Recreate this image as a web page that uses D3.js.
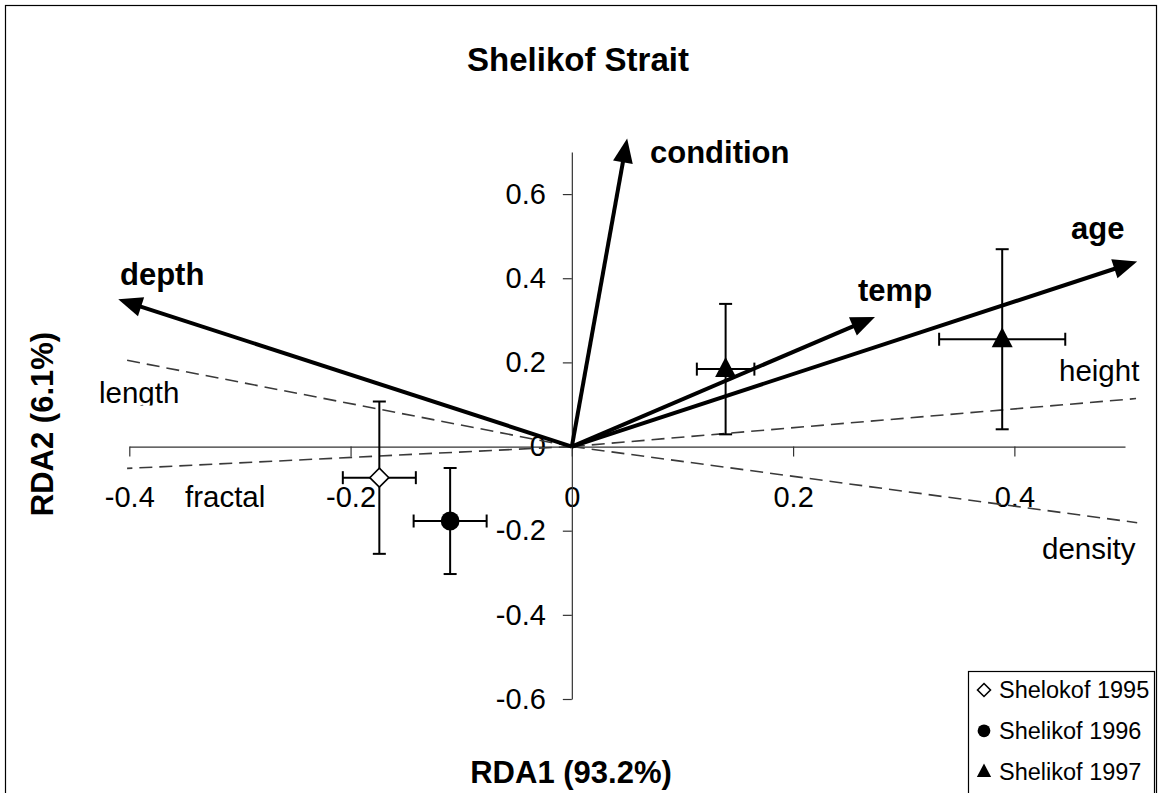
<!DOCTYPE html>
<html>
<head>
<meta charset="utf-8">
<script src="https://cdn.jsdelivr.net/npm/d3@7"></script>
<style>
  html, body { margin: 0; padding: 0; background: #fff; }
  svg { display: block; font-family: "Liberation Sans", Arial, Helvetica, sans-serif; }
</style>
</head>
<body>
<svg id="chart" width="1159" height="793"></svg>
<script>
// RDA biplot for Shelikof Strait samples

const chartTitle = "Shelikof Strait";
const xTitle = "RDA1 (93.2%)";
const yTitle = "RDA2 (6.1%)";

const xTicks = [-0.4, -0.2, 0, 0.2, 0.4];
const yTicks = [-0.6, -0.4, -0.2, 0, 0.2, 0.4, 0.6];

// Environmental vectors (solid arrows)
const envNames = ["condition", "age", "temp", "depth"];
const envX = [0.050, 0.511, 0.274, -0.410];
const envY = [0.732, 0.440, 0.308, 0.350];

// Morphometric vectors (dashed lines)
const morphNames = ["length", "fractal", "height", "density"];
const morphX = [-0.404, -0.402, 0.510, 0.511];
const morphY = [0.206, -0.052, 0.114, -0.181];

// Sample group centroids with standard errors
const groupSymbols = ["diamond", "circle", "triangle", "triangle"];
const groupX = [-0.174, -0.110, 0.139, 0.389];
const groupY = [-0.074, -0.177, 0.184, 0.255];
const groupXErr = [0.033, 0.033, 0.026, 0.057];
const groupYErr = [0.181, 0.126, 0.155, 0.214];

const legendNames = ["Shelokof 1995", "Shelikof 1996", "Shelikof 1997"];
const legendSymbols = ["diamond", "circle", "triangle"];

const svg = d3.select("#chart");

const x = d3.scaleLinear().domain([-0.4, 0.5]).range([129.3, 1125]);
const y = d3.scaleLinear().domain([-0.6, 0.7]).range([699, 152]);

// outer frame
svg.append("rect")
  .attr("x", 5.5).attr("y", 5.5)
  .attr("width", 1151).attr("height", 800)
  .attr("fill", "none").attr("stroke", "#000").attr("stroke-width", 1.2);

// title
svg.append("text")
  .attr("x", 578).attr("y", 71)
  .attr("text-anchor", "middle")
  .attr("font-size", 33).attr("font-weight", "bold")
  .text(chartTitle);

// axes crossing at origin
const fmt = d => d === 0 ? "0" : String(d);

const xAxis = svg.append("g")
  .attr("transform", `translate(0,${y(0)})`)
  .call(d3.axisBottom(x).tickValues(xTicks).tickFormat(fmt).tickSize(10).tickSizeOuter(0).tickPadding(30));
const yAxis = svg.append("g")
  .attr("transform", `translate(${x(0)},0)`)
  .call(d3.axisLeft(y).tickValues(yTicks).tickFormat(fmt).tickSize(9).tickSizeOuter(0).tickPadding(17));

[xAxis, yAxis].forEach(g => {
  g.select(".domain").attr("stroke", "#333").attr("stroke-width", 1.2);
  g.selectAll(".tick line").attr("stroke", "#333").attr("stroke-width", 1.2);
  g.selectAll(".tick text")
    .attr("fill", "#000")
    .attr("font-size", 29)
    .attr("font-family", "Liberation Sans, Arial, sans-serif");
});

// axis titles
svg.append("text")
  .attr("x", 571).attr("y", 783)
  .attr("text-anchor", "middle")
  .attr("font-size", 31).attr("font-weight", "bold")
  .text(xTitle);
svg.append("text")
  .attr("transform", "translate(53,424) rotate(-90)")
  .attr("text-anchor", "middle")
  .attr("font-size", 31).attr("font-weight", "bold")
  .text(yTitle);

// dashed morphometric vectors
const morph = svg.append("g");
morphNames.forEach((name, i) => {
  morph.append("line")
    .attr("x1", x(0)).attr("y1", y(0))
    .attr("x2", x(morphX[i])).attr("y2", y(morphY[i]))
    .attr("stroke", "#3a3a3a").attr("stroke-width", 1.6)
    .attr("stroke-dasharray", "13,7");
});

// the "length" label sits in a box that cuts off its descender
svg.append("clipPath").attr("id", "lenclip")
  .append("rect").attr("x", 80).attr("y", 370).attr("width", 120).attr("height", 35.5);

const morphLabelPos = [
  {x: 99, y: 403, clip: true},
  {x: 185, y: 507},
  {x: 1059, y: 381},
  {x: 1042, y: 558.5}
];
morphNames.forEach((name, i) => {
  const p = morphLabelPos[i];
  const t = svg.append("text")
    .attr("x", p.x).attr("y", p.y)
    .attr("font-size", 29.5)
    .text(name);
  if (p.clip) t.attr("clip-path", "url(#lenclip)");
});

// error bars and group symbols
const eb = svg.append("g").attr("stroke", "#000").attr("stroke-width", 2).attr("fill", "none");
const cap = 6.5;
groupX.forEach((gx, i) => {
  const cx = x(gx), cy = y(groupY[i]);
  const xl = x(gx - groupXErr[i]), xr = x(gx + groupXErr[i]);
  const yt = y(groupY[i] + groupYErr[i]), yb = y(groupY[i] - groupYErr[i]);
  eb.append("line").attr("x1", xl).attr("x2", xr).attr("y1", cy).attr("y2", cy);
  eb.append("line").attr("x1", cx).attr("x2", cx).attr("y1", yt).attr("y2", yb);
  eb.append("line").attr("x1", xl).attr("x2", xl).attr("y1", cy - cap).attr("y2", cy + cap);
  eb.append("line").attr("x1", xr).attr("x2", xr).attr("y1", cy - cap).attr("y2", cy + cap);
  eb.append("line").attr("x1", cx - cap).attr("x2", cx + cap).attr("y1", yt).attr("y2", yt);
  eb.append("line").attr("x1", cx - cap).attr("x2", cx + cap).attr("y1", yb).attr("y2", yb);
});

function drawSymbol(g, type, cx, cy, scale) {
  const s = scale || 1;
  if (type === "diamond") {
    const r = 9.5 * s;
    g.append("path")
      .attr("d", `M${cx},${cy - r}L${cx + r},${cy}L${cx},${cy + r}L${cx - r},${cy}Z`)
      .attr("fill", "#fff").attr("stroke", "#000").attr("stroke-width", 1.6);
  } else if (type === "circle") {
    g.append("circle").attr("cx", cx).attr("cy", cy).attr("r", 9.4 * s).attr("fill", "#000");
  } else {
    const h = 20 * s, w = 21 * s;
    g.append("path")
      .attr("d", `M${cx},${cy - h * 0.6}L${cx + w / 2},${cy + h * 0.4}L${cx - w / 2},${cy + h * 0.4}Z`)
      .attr("fill", "#000");
  }
}

const sym = svg.append("g");
groupX.forEach((gx, i) => drawSymbol(sym, groupSymbols[i], x(gx), y(groupY[i])));

// solid environmental arrows
const arr = svg.append("g");
const headLen = 24, headHalf = 10;
envNames.forEach((name, i) => {
  const x0 = x(0), y0 = y(0), x1 = x(envX[i]), y1 = y(envY[i]);
  const dx = x1 - x0, dy = y1 - y0, L = Math.hypot(dx, dy);
  const ux = dx / L, uy = dy / L;
  const bx = x1 - ux * headLen, by = y1 - uy * headLen;
  arr.append("line")
    .attr("x1", x0).attr("y1", y0).attr("x2", bx + ux * 2).attr("y2", by + uy * 2)
    .attr("stroke", "#000").attr("stroke-width", 4);
  arr.append("path")
    .attr("d", `M${x1},${y1}L${bx - uy * headHalf},${by + ux * headHalf}L${bx + uy * headHalf},${by - ux * headHalf}Z`)
    .attr("fill", "#000");
});

const envLabelPos = [
  {x: 650, y: 163},
  {x: 1071, y: 239},
  {x: 858, y: 301},
  {x: 120, y: 285}
];
envNames.forEach((name, i) => {
  svg.append("text")
    .attr("x", envLabelPos[i].x).attr("y", envLabelPos[i].y)
    .attr("font-size", 31).attr("font-weight", "bold")
    .text(name);
});

// legend
const lg = svg.append("g");
lg.append("rect")
  .attr("x", 968.5).attr("y", 671.5).attr("width", 186).attr("height", 130)
  .attr("fill", "#fff").attr("stroke", "#000").attr("stroke-width", 1.2);
legendNames.forEach((name, i) => {
  const cy = 690 + i * 40.8;
  drawSymbol(lg, legendSymbols[i], 984, cy, 0.68);
  lg.append("text")
    .attr("x", 999).attr("y", cy).attr("dy", "0.36em")
    .attr("font-size", 23.5)
    .text(name);
});
</script>
</body>
</html>
